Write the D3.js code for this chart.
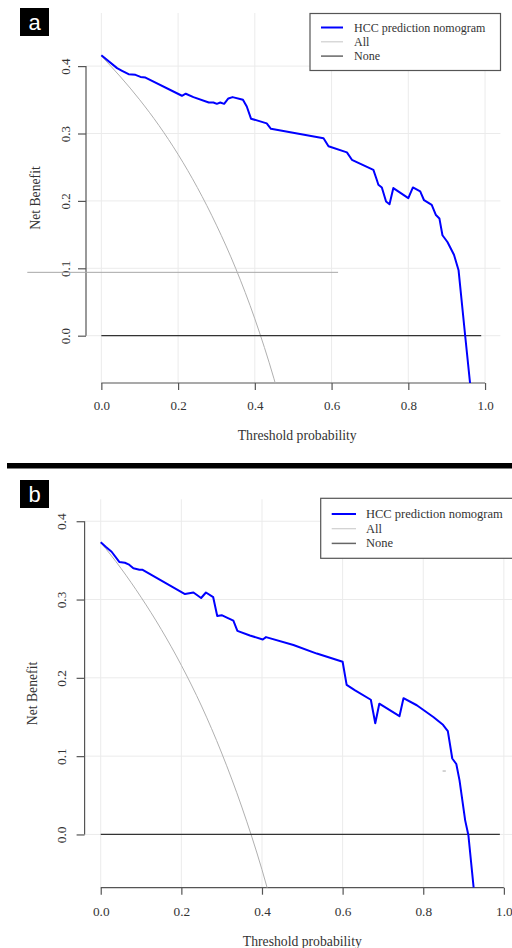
<!DOCTYPE html>
<html>
<head>
<meta charset="utf-8">
<script src="https://cdn.jsdelivr.net/npm/d3@7/dist/d3.min.js"></script>
<style>
  body { margin: 0; background: #fff; }
  text { font-family: "Liberation Serif", "Times New Roman", serif; fill: #333; }
</style>
</head>
<body>
<script>
// panel a data
var hccA_t = [0, 0.041, 0.054, 0.071, 0.089, 0.102, 0.115, 0.21, 0.22, 0.24, 0.28, 0.292, 0.301, 0.31, 0.32,
  0.331, 0.342, 0.369, 0.379, 0.39, 0.414, 0.431, 0.442, 0.579, 0.592, 0.64, 0.653, 0.709, 0.718, 0.722,
  0.731, 0.742, 0.751, 0.761, 0.80, 0.812, 0.831, 0.841, 0.861, 0.872, 0.881, 0.889, 0.902, 0.919, 0.931,
  0.948, 0.961];
var hccA_nb = [0.416, 0.397, 0.393, 0.388, 0.387, 0.384, 0.383, 0.356, 0.359, 0.354, 0.346, 0.346, 0.344, 0.346, 0.344,
  0.352, 0.354, 0.350, 0.340, 0.322, 0.318, 0.315, 0.307, 0.293, 0.281, 0.272, 0.261, 0.246, 0.231, 0.224,
  0.220, 0.199, 0.195, 0.219, 0.204, 0.220, 0.214, 0.201, 0.194, 0.179, 0.174, 0.149, 0.139, 0.120, 0.097,
  0.001, -0.071];
var allA_t = [0, 0.05, 0.1, 0.15, 0.2, 0.25, 0.3, 0.35, 0.4, 0.45, 0.5];
var allA_nb = [0.415, 0.384, 0.350, 0.312, 0.269, 0.220, 0.164, 0.100, 0.025, -0.064, -0.170];
var noneA_t = [0, 0.99];
var noneA_nb = [0, 0];
var strayA_t = [-0.193, 0.617];
var strayA_nb = [0.094, 0.094];

// panel b data
var hccB_t = [0, 0.013, 0.027, 0.046, 0.06, 0.069, 0.081, 0.096, 0.104, 0.209, 0.23, 0.249, 0.261, 0.279, 0.289,
  0.30, 0.313, 0.329, 0.339, 0.37, 0.402, 0.41, 0.478, 0.536, 0.60, 0.61, 0.631, 0.67, 0.681, 0.691, 0.741,
  0.751, 0.784, 0.825, 0.849, 0.861, 0.872, 0.882, 0.89, 0.904, 0.912, 0.925];
var hccB_nb = [0.373, 0.367, 0.361, 0.348, 0.347, 0.345, 0.340, 0.338, 0.338, 0.307, 0.309, 0.302, 0.309, 0.303, 0.279,
  0.280, 0.277, 0.273, 0.260, 0.254, 0.249, 0.252, 0.242, 0.231, 0.2205, 0.191, 0.184, 0.172, 0.142, 0.167, 0.151,
  0.174, 0.165, 0.150, 0.140, 0.132, 0.097, 0.090, 0.069, 0.018, -0.001, -0.068];
var allB_t = [0, 0.05, 0.1, 0.15, 0.2, 0.25, 0.3, 0.35, 0.4, 0.45];
var allB_nb = [0.373, 0.340, 0.303, 0.262, 0.216, 0.164, 0.104, 0.035, -0.045, -0.140];
var noneB_t = [0, 0.99];
var noneB_nb = [0, 0];
var strayB_t = [0.848, 0.856];
var strayB_nb = [0.081, 0.081];

var xTicks = [0, 0.2, 0.4, 0.6, 0.8, 1.0];
var yTicks = [0, 0.1, 0.2, 0.3, 0.4];
var legendLabels = ['HCC prediction nomogram', 'All', 'None'];

var width = 512;
var height = 948;

var svg = d3.select('body').append('svg')
  .attr('width', width)
  .attr('height', height);

function pts(t, nb) {
  return t.map(function(d, i) { return [d, nb[i]]; });
}

function panel(cfg) {
  var x = d3.scaleLinear().domain([-0.04, 1.04]).range([cfg.left, cfg.right]);
  var y = d3.scaleLinear().domain(cfg.yDomain).range([cfg.bottom, cfg.top]);
  var g = svg.append('g');

  var clipId = 'clip' + cfg.name;
  svg.append('clipPath').attr('id', clipId)
    .append('rect')
    .attr('x', cfg.left).attr('y', cfg.top)
    .attr('width', cfg.right - cfg.left).attr('height', cfg.bottom - cfg.top);

  // grid
  g.selectAll('.vg').data(xTicks).enter().append('line')
    .attr('x1', x).attr('x2', x)
    .attr('y1', cfg.top).attr('y2', cfg.bottom)
    .attr('stroke', '#ebebeb').attr('stroke-width', 1);
  g.selectAll('.hg').data(yTicks).enter().append('line')
    .attr('x1', cfg.left).attr('x2', cfg.right)
    .attr('y1', y).attr('y2', y)
    .attr('stroke', '#ebebeb').attr('stroke-width', 1);

  // axes
  var xAxis = d3.axisBottom(x).tickValues(xTicks).tickFormat(d3.format('.1f')).tickSize(7).tickPadding(7);
  var xg = g.append('g').attr('transform', 'translate(0,' + cfg.bottom + ')').call(xAxis);
  var yAxis = d3.axisLeft(y).tickValues(yTicks).tickFormat(d3.format('.1f')).tickSize(8).tickPadding(5);
  var yg = g.append('g').attr('transform', 'translate(' + cfg.left + ',0)').call(yAxis);

  [xg, yg].forEach(function(a) {
    a.select('.domain').remove();
    a.selectAll('.tick line').attr('stroke', '#555').attr('stroke-width', 1.2);
    a.selectAll('text').style('font-family', '"Liberation Serif", serif')
      .style('font-size', cfg.tickFs + 'px').attr('fill', '#333');
  });
  xg.append('line').attr('x1', x(0)).attr('x2', x(1)).attr('stroke', '#555').attr('stroke-width', 1.2);
  yg.append('line').attr('y1', y(0)).attr('y2', y(0.4)).attr('stroke', '#555').attr('stroke-width', 1.2);
  xg.selectAll('.tick text').attr('y', null).attr('dy', null)
    .attr('dominant-baseline', 'central')
    .attr('transform', 'translate(0,' + (cfg.xLabY - cfg.bottom) + ')');
  yg.selectAll('.tick text')
    .attr('x', null).attr('dy', null)
    .attr('text-anchor', 'middle')
    .attr('dominant-baseline', 'central')
    .attr('transform', 'translate(' + (cfg.yLabX - cfg.left) + ',0) rotate(-90)');

  g.append('text')
    .attr('x', (cfg.left + cfg.right) / 2 + cfg.xTitleShift)
    .attr('y', cfg.xTitleY)
    .attr('text-anchor', 'middle')
    .attr('dominant-baseline', 'central')
    .style('font-size', cfg.titleFs + 'px')
    .text('Threshold probability');
  g.append('text')
    .attr('transform', 'translate(' + cfg.yTitleX + ',' + (cfg.top + cfg.bottom) / 2 + ') rotate(-90)')
    .attr('text-anchor', 'middle')
    .attr('dominant-baseline', 'central')
    .style('font-size', cfg.titleFs + 'px')
    .text('Net Benefit');

  var line = d3.line().x(function(d) { return x(d[0]); }).y(function(d) { return y(d[1]); });
  var curve = d3.line().curve(d3.curveMonotoneX).x(function(d) { return x(d[0]); }).y(function(d) { return y(d[1]); });

  var lines = g.append('g');
  lines.append('path').attr('d', line(pts(cfg.strayT, cfg.strayNb)))
    .attr('fill', 'none').attr('stroke', '#a8a8a8').attr('stroke-width', 1);
  var inner = lines.append('g').attr('clip-path', 'url(#' + clipId + ')');
  inner.append('path').attr('d', curve(pts(cfg.allT, cfg.allNb)))
    .attr('fill', 'none').attr('stroke', '#b0b0b0').attr('stroke-width', 1);
  inner.append('path').attr('d', line(pts(cfg.noneT, cfg.noneNb)))
    .attr('fill', 'none').attr('stroke', '#333').attr('stroke-width', 1.3);
  inner.append('path').attr('d', line(pts(cfg.hccT, cfg.hccNb)))
    .attr('fill', 'none').attr('stroke', '#0000ff').attr('stroke-width', 2)
    .attr('stroke-linejoin', 'round');

  // legend
  var lg = g.append('g');
  lg.append('rect')
    .attr('x', cfg.leg.x).attr('y', cfg.leg.y)
    .attr('width', cfg.leg.w).attr('height', cfg.leg.h)
    .attr('fill', '#fff').attr('stroke', '#555').attr('stroke-width', 1.2);
  var legColors = ['#0000ff', '#cfcfcf', '#666'];
  var legWidths = [2, 1.2, 1.5];
  legendLabels.forEach(function(lab, i) {
    var ly = cfg.leg.y + cfg.leg.row0 + i * cfg.leg.dy;
    lg.append('line')
      .attr('x1', cfg.leg.x + cfg.leg.lx0).attr('x2', cfg.leg.x + cfg.leg.lx1)
      .attr('y1', ly).attr('y2', ly)
      .attr('stroke', legColors[i]).attr('stroke-width', legWidths[i]);
    lg.append('text')
      .attr('x', cfg.leg.x + cfg.leg.tx).attr('y', ly)
      .attr('dominant-baseline', 'central')
      .style('font-size', cfg.legFs + 'px')
      .text(lab);
  });

  // panel letter
  svg.append('rect').attr('x', 20).attr('y', cfg.boxY).attr('width', 29).attr('height', 28).attr('fill', '#000');
  svg.append('text').attr('x', 34.5).attr('y', cfg.boxY + 14)
    .attr('text-anchor', 'middle').attr('dominant-baseline', 'central')
    .style('font-family', '"Liberation Sans", Arial, sans-serif')
    .style('font-size', '22px').style('fill', '#fff')
    .text(cfg.name);
}

panel({
  name: 'a', left: 86, right: 500.4, top: 13, bottom: 383, yDomain: [-0.0702, 0.4788],
  tickFs: 13, titleFs: 13.7, legFs: 12, yLabX: 65, xLabY: 405, yTitleX: 35, xTitleY: 435, xTitleShift: 4, boxY: 8,
  hccT: hccA_t, hccNb: hccA_nb, allT: allA_t, allNb: allA_nb,
  noneT: noneA_t, noneNb: noneA_nb, strayT: strayA_t, strayNb: strayA_nb,
  leg: { x: 310, y: 13.5, w: 190.5, h: 57, lx0: 11, lx1: 33, tx: 44, row0: 14, dy: 14.3 }
});

// separator bar
svg.append('rect').attr('x', 7).attr('y', 463).attr('width', width - 7).attr('height', 5.5).attr('fill', '#000');

panel({
  name: 'b', left: 84.6, right: 520, top: 499.3, bottom: 887.7, yDomain: [-0.068, 0.428],
  tickFs: 13.3, titleFs: 13.7, legFs: 12.5, yLabX: 61.7, xLabY: 911, yTitleX: 32, xTitleY: 941, xTitleShift: 0, boxY: 480,
  hccT: hccB_t, hccNb: hccB_nb, allT: allB_t, allNb: allB_nb,
  noneT: noneB_t, noneNb: noneB_nb, strayT: strayB_t, strayNb: strayB_nb,
  leg: { x: 320.7, y: 498.3, w: 200, h: 60, lx0: 11, lx1: 35.3, tx: 45.3, row0: 15.7, dy: 14.7 }
});
</script>
</body>
</html>
